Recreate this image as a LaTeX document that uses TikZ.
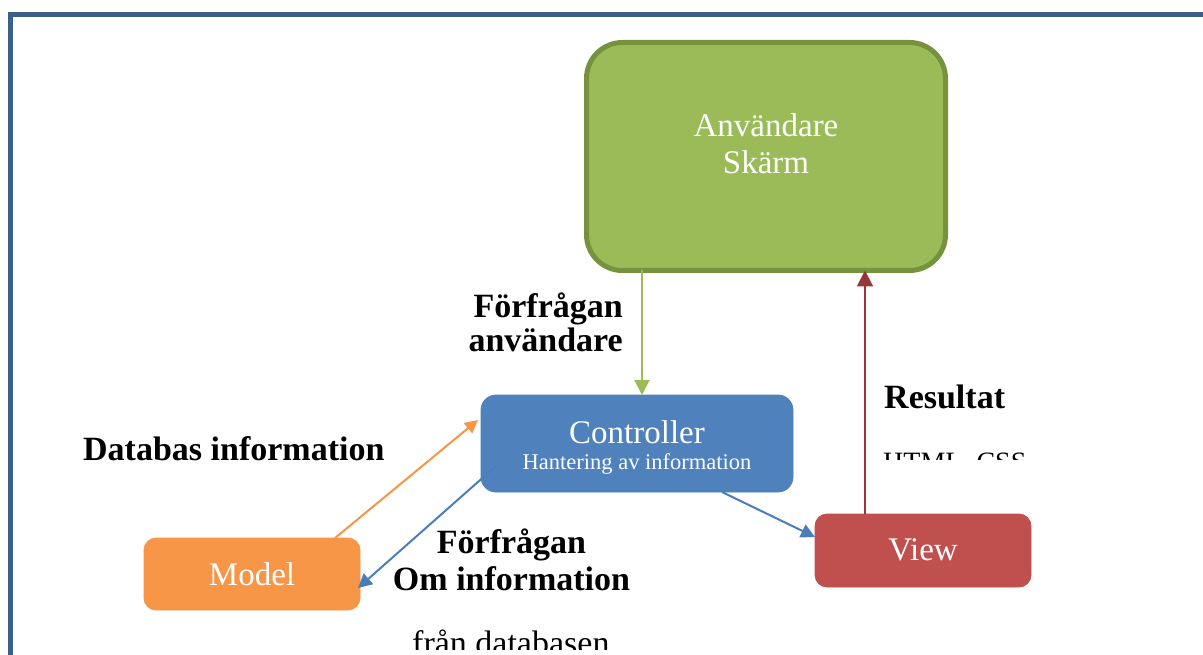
\documentclass[tikz,border=0pt]{standalone}
\usepackage{fontspec}
\setmainfont{Liberation Serif}
\usetikzlibrary{arrows.meta}
\definecolor{framecol}{HTML}{3A5F8B}
\definecolor{greenfill}{HTML}{9BBB59}
\definecolor{greenline}{HTML}{76923C}
\definecolor{bluefill}{HTML}{4F81BD}
\definecolor{bluearrow}{HTML}{4A7EBB}
\definecolor{orangefill}{HTML}{F79646}
\definecolor{redfill}{HTML}{C0504D}
\definecolor{redarrow}{HTML}{953735}
\tikzset{
  box/.style={rectangle, inner sep=0pt, outer sep=0pt},
  boxtext/.style={anchor=base, text=white, inner sep=0pt, font=\fontsize{33}{35}\selectfont},
  smalltext/.style={anchor=base, text=white, inner sep=0pt, font=\fontsize{22.5}{24}\selectfont},
  lbl/.style={anchor=base, inner sep=0pt, font=\fontsize{34}{36}\selectfont\bfseries},
  plain/.style={anchor=base west, inner sep=0pt},
  conn/.style={line width=2pt},
}
\begin{document}
\begin{tikzpicture}[x=1pt,y=-1pt]
\useasboundingbox (0,0) rectangle (1203,655);
\clip (0,0) rectangle (1203,655);
\fill[white] (0,0) rectangle (1203,655);
% frame
\draw[framecol, line width=5pt] (10.8,700) -- (10.8,15) -- (1250,15);

% boxes
\node[box, fill=greenfill, draw=greenline, line width=5pt, rounded corners=36pt,
      minimum width=359pt, minimum height=228pt] (user) at (766,156.5) {};
\node[box, fill=bluefill, draw=bluefill, line width=0.8pt, rounded corners=15pt,
      minimum width=312pt, minimum height=97pt] (ctrl) at (637,443.5) {};
\node[box, fill=orangefill, draw=orangefill, line width=0.8pt, rounded corners=12pt,
      minimum width=216pt, minimum height=72pt] (model) at (252,574) {};
\node[box, fill=redfill, draw=redfill, line width=0.8pt, rounded corners=12pt,
      minimum width=216pt, minimum height=73pt] (view) at (923,550.5) {};

% box texts
\node[boxtext] (usert1) at (766,137) {Användare};
\node[boxtext] (usert2) at (766,174) {Skärm};
\node[boxtext] (ctrlt1) at (637,443) {Controller};
\node[smalltext] (ctrlt2) at (637,469) {Hantering av information};
\node[boxtext] (modelt) at (252,585) {Model};
\node[boxtext] (viewt) at (923,560) {View};

% connectors
\draw[conn, greenfill, -{Triangle[width=15pt,length=15pt]}]
  ([xshift=-124pt]user.south) -- ([xshift=-124pt]user.south |- ctrl.north);
\draw[conn, redarrow, -{Triangle[width=16pt,length=16pt]}]
  ([xshift=-58pt]view.north) -- ([xshift=-58pt]view.north |- user.south);
\draw[conn, orangefill, -{Triangle[width=13pt,length=13pt]}]
  ([xshift=83pt]model.north) -- ([yshift=23.5pt,xshift=-3pt]ctrl.west);
\draw[conn, bluearrow, -{Triangle[width=14pt,length=14pt]}]
  ([xshift=-141pt,yshift=-22.5pt]ctrl.center) -- ([yshift=-14pt,xshift=-2pt]model.east);
\draw[conn, bluearrow, -{Triangle[width=14pt,length=14pt]}]
  ([xshift=85pt]ctrl.south) -- ([yshift=13.5pt]view.west);

% labels
\node[lbl, anchor=base east] (req1a) at (623,317) {Förfrågan};
\node[lbl, anchor=base east] (req1b) at (623,351) {användare};
\node[lbl, anchor=base west] (dbinfo) at (83,460) {Databas information};
\node[lbl, anchor=base west] (result) at (884,408) {Resultat};
\node[lbl] (req2a) at (511.5,553) {Förfrågan};
\node[lbl] (req2b) at (511.5,590) {Om information};
\begin{scope}
  \clip (860,440) rectangle (1100,459);
  \node[plain, font=\fontsize{28}{30}\selectfont] (html) at (883,471.5) {HTML, CSS};
\end{scope}
\begin{scope}
  \clip (380,620) rectangle (700,649);
  \node[plain, font=\fontsize{34}{36}\selectfont] (fran) at (412,654) {från databasen};
\end{scope}
\end{tikzpicture}
\end{document}
